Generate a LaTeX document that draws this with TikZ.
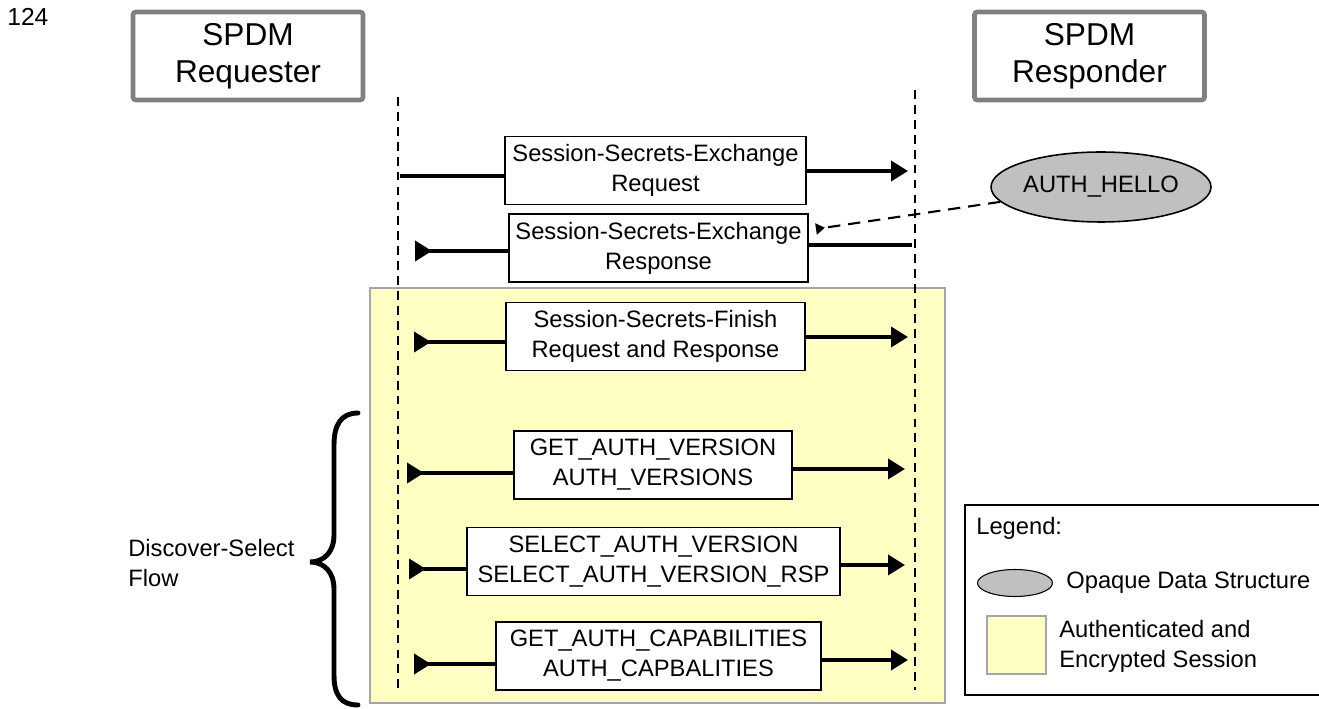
\documentclass[tikz,border=0pt]{standalone}
\usepackage{fontspec}
\setmainfont{Liberation Sans}
\usetikzlibrary{arrows.meta,shapes.geometric}
\definecolor{sessao}{HTML}{FFFFC4}
\definecolor{cinza}{HTML}{808080}
\definecolor{opaco}{HTML}{C0C0C0}

\begin{document}
\begin{tikzpicture}[x=0.02cm, y=-0.02cm,
    ator/.style={draw=cinza, line width=2.6pt, rounded corners=1.5pt, fill=white, align=center,
      minimum width=4.6cm, minimum height=1.76cm, inner sep=0pt, font=\fontsize{18}{21}\selectfont},
    msg/.style={draw, line width=1pt, fill=white, align=center, minimum height=1.36cm,
      inner sep=0pt, font=\fontsize{13.5}{17}\selectfont},
    texto/.style={align=left, inner sep=0pt, font=\fontsize{13.5}{17}\selectfont},
    vida/.style={line width=0.6pt, dash pattern=on 5pt off 3.5pt},
    seta/.style={line width=2.2pt},
    ida/.style={-{Triangle[length=0.34cm,width=0.4cm]}},
    volta/.style={{Triangle[reversed,length=0.34cm,width=0.4cm]}-}]
    \useasboundingbox (0,0) rectangle (1319,709);

    % Sessão autenticada (fundo amarelo)
    \draw[fill=sessao, draw=cinza!70, line width=0.6pt] (370,288) rectangle (945,703);

    % Número e atores
    \node[anchor=north west, inner sep=0pt, font=\fontsize{14}{16}\selectfont] (num) at (7,8) {124};
    \node[ator] (req) at (248,56) {SPDM\\Requester};
    \node[ator] (resp) at (1089.5,56) {SPDM\\Responder};

    % Linhas de vida
    \coordinate (reqtop) at (398,97);
    \coordinate (reqbot) at (398,690);
    \coordinate (resptop) at (915,90);
    \coordinate (respbot) at (915,690);
    \draw[vida] (reqtop) -- (reqbot);
    \draw[vida] (resptop) -- (respbot);

    % Mensagens
    \node[msg, minimum width=6.02cm] (msg1) at (655.5,170.5) {Session-Secrets-Exchange\\Request};
    \node[msg, minimum width=5.98cm] (msg2) at (658.5,248) {Session-Secrets-Exchange\\Response};
    \node[msg, minimum width=5.98cm] (msg3) at (655.5,336.5) {Session-Secrets-Finish\\Request and Response};
    \node[msg, minimum width=5.56cm] (msg4) at (653,465) {GET\_AUTH\_VERSION\\AUTH\_VERSIONS};
    \node[msg, minimum width=7.46cm] (msg5) at (653.5,561.5) {SELECT\_AUTH\_VERSION\\SELECT\_AUTH\_VERSION\_RSP};
    \node[msg, minimum width=6.5cm] (msg6) at (658.5,656) {GET\_AUTH\_CAPABILITIES\\AUTH\_CAPBALITIES};

    % Pontas das setas nas linhas de vida
    \coordinate (m1l) at (400,176);  \coordinate (m1r) at (908,171);
    \coordinate (m2l) at (415,251);  \coordinate (m2r) at (912,245);
    \coordinate (m3l) at (414,342);  \coordinate (m3r) at (908,337);
    \coordinate (m4l) at (407,473);  \coordinate (m4r) at (905,469);
    \coordinate (m5l) at (409,569);  \coordinate (m5r) at (905,565);
    \coordinate (m6l) at (414,664);  \coordinate (m6r) at (908,660);

    \draw[seta] (m1l) -- (m1l -| msg1.west);
    \draw[seta, ida] (msg1.east |- m1r) -- (m1r);
    \draw[seta, volta] (m2l) -- (m2l -| msg2.west);
    \draw[seta] (msg2.east |- m2r) -- (m2r);
    \draw[seta, volta] (m3l) -- (m3l -| msg3.west);
    \draw[seta, ida] (msg3.east |- m3r) -- (m3r);
    \draw[seta, volta] (m4l) -- (m4l -| msg4.west);
    \draw[seta, ida] (msg4.east |- m4r) -- (m4r);
    \draw[seta, volta] (m5l) -- (m5l -| msg5.west);
    \draw[seta, ida] (msg5.east |- m5r) -- (m5r);
    \draw[seta, volta] (m6l) -- (m6l -| msg6.west);
    \draw[seta, ida] (msg6.east |- m6r) -- (m6r);

    % Estrutura opaca
    \node[ellipse, draw, line width=0.9pt, fill=opaco, minimum width=4.34cm, minimum height=1.4cm,
      inner sep=0pt, font=\fontsize{13.5}{17}\selectfont] (hello) at (1101,187) {AUTH\_HELLO};
    \coordinate (hellofim) at (816,229);
    \draw[line width=1.2pt, dash pattern=on 7pt off 4.5pt,
      -{Triangle[reversed,length=0.18cm,width=0.22cm]}] (hello) -- (hellofim);

    % Chave do fluxo
    \draw[line width=2.8pt, line cap=round]
      (358,413) .. controls (341,413) and (334,425) .. (334,445) -- (334,535)
      .. controls (334,552) and (324,562) .. (310,562)
      .. controls (324,562) and (334,572) .. (334,589) -- (334,675)
      .. controls (334,695) and (341,705) .. (358,705);
    \node[texto, anchor=west] (fluxo) at (128,563) {Discover-Select\\Flow};

    % Legenda
    \draw[line width=1.1pt] (965,505) rectangle (1330,695);
    \node[texto, anchor=west] (leg) at (976,528) {Legend:};
    \node[ellipse, draw, line width=0.6pt, fill=opaco, minimum width=1.5cm, minimum height=0.54cm,
      inner sep=0pt] (legopaco) at (1015,583) {};
    \node[texto, anchor=west] (legopacotxt) at (1066,583) {Opaque Data Structure};
    \draw[fill=sessao, draw=cinza!70, line width=0.8pt] (987,616) rectangle (1046,674);
    \node[texto, anchor=west] (legsessao) at (1059,646) {Authenticated and\\Encrypted Session};
\end{tikzpicture}
\end{document}
